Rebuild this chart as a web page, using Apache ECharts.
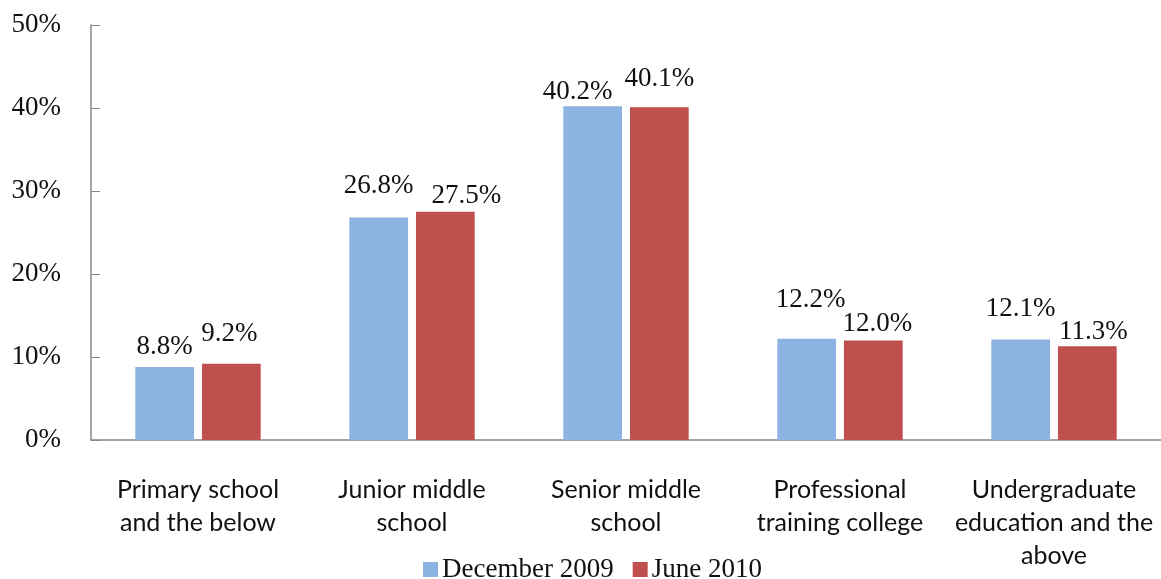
<!DOCTYPE html>
<html>
<head>
<meta charset="utf-8">
<script src="https://cdn.jsdelivr.net/npm/echarts@6/dist/echarts.min.js"></script>
<style>
  html, body { margin: 0; padding: 0; background: #fff; }
  #chart { width: 1161px; height: 579px; }
</style>
</head>
<body>
<div id="chart"></div>
<script>
// education levels of netizens
const categories = [
  'Primary school\nand the below',
  'Junior middle\nschool',
  'Senior middle\nschool',
  'Professional\ntraining college',
  'Undergraduate\neducation and the\nabove'
]
const dec2009 = [8.8, 26.8, 40.2, 12.2, 12.1]
const jun2010 = [9.2, 27.5, 40.1, 12.0, 11.3]
const seriesNames = ['December 2009', 'June 2010']
const colors = ['#8DB3E2', '#C0504D']

// labels were nudged by hand in the original so they don't collide
const decShift = [[0, -4], [0, -15], [-15, 2], [4, -22], [0, -14]]
const junShift = [[-2, -13], [21, 1], [0, -12], [4, 0], [6, 2]]

const serif = '"Liberation Serif", "DejaVu Serif", serif'
const chart = echarts.init(document.getElementById('chart'))

const barLabel = {
  show: true,
  position: 'top',
  distance: 3,
  formatter: (p) => p.value.toFixed(1) + '%',
  fontFamily: serif,
  fontSize: 27,
  color: '#111'
}

const withShift = (values, shifts) =>
  values.map((v, i) => ({ value: v, label: { offset: shifts[i] } }))

chart.setOption({
  animation: false,
  grid: { left: 91, right: -5, top: 25, bottom: 139 },
  legend: {
    data: seriesNames,
    top: 551,
    left: 418,
    itemWidth: 15,
    itemHeight: 15,
    itemGap: 19,
    icon: 'rect',
    textStyle: { fontFamily: serif, fontSize: 27, color: '#111', padding: [0, 0, 0, -1] }
  },
  xAxis: {
    type: 'category',
    data: categories,
    axisLine: { lineStyle: { color: '#888', width: 1.5 } },
    axisTick: { inside: true, length: 9, alignWithLabel: false, lineStyle: { color: '#888' } },
    axisLabel: {
      interval: 0,
      margin: 33,
      lineHeight: 33,
      fontFamily: 'Lato, "Open Sans", sans-serif',
      fontSize: 25,
      color: '#111'
    }
  },
  yAxis: {
    type: 'value',
    min: 0,
    max: 50,
    interval: 10,
    axisLine: { show: true, lineStyle: { color: '#888', width: 1.5 } },
    axisTick: { show: true, inside: true, length: 9, lineStyle: { color: '#888' } },
    splitLine: { show: false },
    axisLabel: {
      margin: 30,
      formatter: '{value}%',
      fontFamily: serif,
      fontSize: 27,
      color: '#111'
    }
  },
  series: [
    {
      name: seriesNames[0],
      type: 'bar',
      data: withShift(dec2009, decShift),
      itemStyle: { color: colors[0] },
      barGap: '13.5%',
      barCategoryGap: '41.4%',
      label: barLabel
    },
    {
      name: seriesNames[1],
      type: 'bar',
      data: withShift(jun2010, junShift),
      itemStyle: { color: colors[1] },
      label: barLabel
    }
  ]
})
</script>
</body>
</html>
